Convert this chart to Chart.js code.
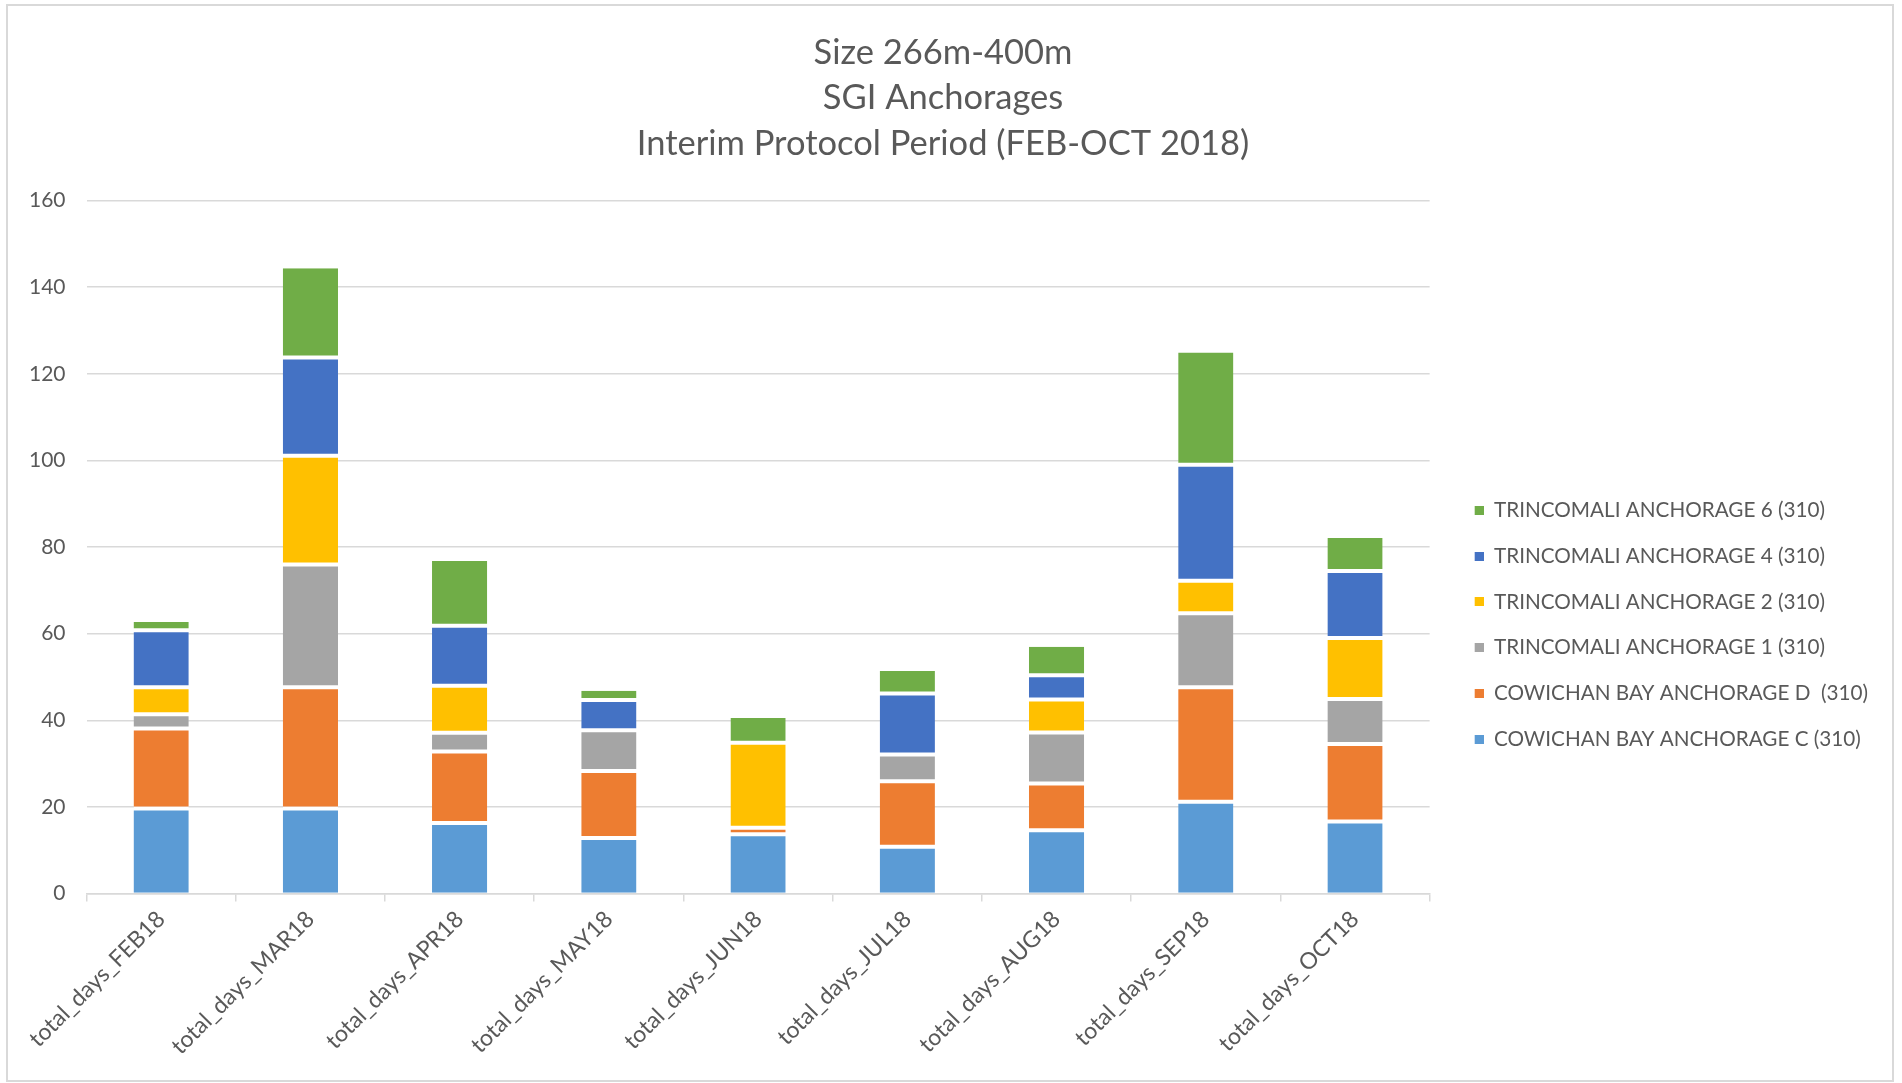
<!DOCTYPE html>
<html>
<head>
<meta charset="utf-8">
<script src="https://cdn.jsdelivr.net/npm/chart.js@4.4.1/dist/chart.umd.min.js"></script>
<style>
body{margin:0;background:#fff}
#marco{position:absolute;left:6px;top:4px;width:1884px;height:1074px;border:2px solid #d9d9d9;background:#fff}
canvas{display:block}
</style>
</head>
<body>
<div id="marco"><canvas id="grafica" width="1884" height="1074"></canvas></div>
<script>

/* DATOS */

const meses=["total_days_FEB18","total_days_MAR18","total_days_APR18","total_days_MAY18","total_days_JUN18","total_days_JUL18","total_days_AUG18","total_days_SEP18","total_days_OCT18"]

const cowichanC=[19.6,19.6,16.3,12.8,13.7,10.8,14.6,21.2,16.6]
const cowichanD=[18.5,28.0,16.5,15.5,1.5,15.1,10.8,26.4,17.9]
const trinco1=[3.3,28.4,4.3,9.4,0,6.2,11.8,17.1,10.4]
const trinco2=[6.2,25.1,10.9,0,19.6,0,7.6,7.5,14.1]
const trinco4=[13.2,22.7,13.8,7.0,0,14.1,5.6,26.8,15.5]
const trinco6=[1.9,20.6,15.0,2.1,5.7,5.2,6.6,25.9,7.6]

const titulo=["Size 266m-400m","SGI Anchorages","Interim Protocol Period (FEB-OCT 2018)"]

const gris="#595959"
const linea="#d9d9d9"

/* cuadrito de la leyenda: lado izquierdo transparente para separarlo de la grafica */
function cuadro(color){
const c=document.createElement("canvas")
c.width=29
c.height=9
const g=c.getContext("2d")
g.fillStyle=color
g.fillRect(20,0,9,9)
return c
}

/* separacion blanca entre tramos: la base de abajo y la cima de arriba quedan sin borde */
function serie(nombre,valores,color,arriba,abajo){
return {
label:nombre,
data:valores,
backgroundColor:color,
borderColor:"#ffffff",
borderWidth:{top:arriba,bottom:abajo,left:0,right:0},
borderSkipped:false,
pointStyle:cuadro(color),
barPercentage:0.37,
categoryPercentage:1
}
}

/* GRAFICA */

new Chart(document.getElementById("grafica"),{

type:'bar',

data:{
labels:meses,
datasets:[
serie("COWICHAN BAY ANCHORAGE C (310)",cowichanC,"#5b9bd5",2,0),
serie("COWICHAN BAY ANCHORAGE D  (310)",cowichanD,"#ed7d31",2,2),
serie("TRINCOMALI ANCHORAGE 1 (310)",trinco1,"#a5a5a5",2,2),
serie("TRINCOMALI ANCHORAGE 2 (310)",trinco2,"#ffc000",2,2),
serie("TRINCOMALI ANCHORAGE 4 (310)",trinco4,"#4472c4",2,2),
serie("TRINCOMALI ANCHORAGE 6 (310)",trinco6,"#70ad47",0,2)
]
},

options:{
responsive:false,
animation:false,
layout:{padding:{left:0,right:14,top:0,bottom:16}},
plugins:{
tooltip:{enabled:false},
title:{
display:true,
text:titulo,
color:gris,
font:{family:"Lato",size:34.5,weight:"normal",lineHeight:1.32},
padding:{top:24,bottom:34}
},
legend:{
position:'right',
reverse:true,
title:{display:true,text:" ",padding:{top:170,bottom:0},font:{size:8}},
labels:{
color:gris,
font:{family:"Lato",size:20.7},
usePointStyle:true,
pointStyleWidth:29,
padding:25
}
}
},
scales:{
x:{
stacked:true,
border:{display:true,color:linea,width:1.5},
grid:{display:true,drawOnChartArea:false,color:linea,tickLength:8,lineWidth:1.5},
ticks:{color:gris,font:{family:"Lato",size:23},minRotation:45,maxRotation:45,padding:4}
},
y:{
stacked:true,
min:0,
max:160,
border:{display:false},
grid:{color:linea,lineWidth:1.5,drawTicks:false},
ticks:{stepSize:20,color:gris,font:{family:"Lato",size:21},padding:21}
}
}
}

})

</script>
</body>
</html>
